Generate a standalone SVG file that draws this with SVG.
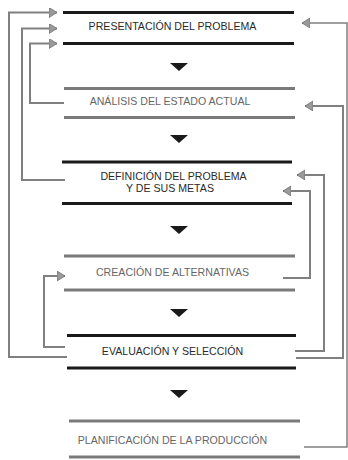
<svg xmlns="http://www.w3.org/2000/svg" width="348" height="460" viewBox="0 0 348 460">
  <style>
    .bar-dark { stroke: #1a1a1a; stroke-width: 3; }
    .bar-grey { stroke: #7a7a7a; stroke-width: 3; }
    .lbl { font-family: "Liberation Sans", Arial, sans-serif; font-size: 10.6px; text-anchor: middle; }
    .lbl-dark { fill: #2a2a2a; }
    .lbl-grey { fill: #666666; }
    .link { fill: none; stroke: #808080; stroke-width: 2; marker-end: url(#head); }
    .link-thin { stroke-width: 1.5; }
    .step { fill: #1a1a1a; }
  </style>
  <defs>
    <marker id="head" markerUnits="userSpaceOnUse" markerWidth="10" markerHeight="12" refX="8" refY="5" orient="auto">
      <path d="M0,0 L8,5 L0,10 z" fill="#9a9a9a" stroke="#707070" stroke-width="0.8"/>
    </marker>
  </defs>
  <rect width="348" height="460" fill="#ffffff"/>

  <g id="presentacion">
    <line class="bar-dark" x1="63" y1="12.5" x2="294" y2="12.5"/>
    <line class="bar-dark" x1="63" y1="43.5" x2="294" y2="43.5"/>
    <text class="lbl lbl-dark" x="172.5" y="29.5">PRESENTACIÓN DEL PROBLEMA</text>
  </g>

  <g id="analisis">
    <line class="bar-grey" x1="64" y1="88.5" x2="295" y2="88.5"/>
    <line class="bar-grey" x1="64" y1="117.5" x2="295" y2="117.5"/>
    <text class="lbl lbl-grey" x="170" y="105">ANÁLISIS DEL ESTADO ACTUAL</text>
  </g>

  <g id="definicion">
    <line class="bar-dark" x1="62" y1="162" x2="292" y2="162"/>
    <line class="bar-dark" x1="62" y1="203.5" x2="292" y2="203.5"/>
    <text class="lbl lbl-dark" x="173.5" y="180">DEFINICIÓN DEL PROBLEMA</text>
    <text class="lbl lbl-dark" x="170" y="192">Y DE SUS METAS</text>
  </g>

  <g id="creacion">
    <line class="bar-grey" x1="64" y1="256" x2="295" y2="256"/>
    <line class="bar-grey" x1="64" y1="290" x2="295" y2="290"/>
    <text class="lbl lbl-grey" x="172.5" y="276">CREACIÓN DE ALTERNATIVAS</text>
  </g>

  <g id="evaluacion">
    <line class="bar-dark" x1="67" y1="335.5" x2="296" y2="335.5"/>
    <line class="bar-dark" x1="67" y1="368" x2="296" y2="368"/>
    <text class="lbl lbl-dark" x="172.5" y="355">EVALUACIÓN Y SELECCIÓN</text>
  </g>

  <g id="planificacion">
    <line class="bar-grey" x1="69" y1="421" x2="300" y2="421"/>
    <line class="bar-grey" x1="69" y1="457" x2="300" y2="457"/>
    <text class="lbl lbl-grey" x="172.5" y="444">PLANIFICACIÓN DE LA PRODUCCIÓN</text>
  </g>

  <g id="connectors">
    <!-- downward step arrows -->
    <polygon class="step" points="170,63 188,63 179,71"/>
    <polygon class="step" points="170,135 188,135 179,143"/>
    <polygon class="step" points="170,226 188,226 179,234"/>
    <polygon class="step" points="170,309 188,309 179,317"/>
    <polygon class="step" points="170,390 188,390 179,398"/>
    <!-- feedback loops, right side -->
    <path class="link link-thin" d="M304,447 H347 V23 H302"/>
    <path class="link" d="M296,358 H343 V106 H305"/>
    <path class="link" d="M295,351 H324 V175 H297"/>
    <path class="link" d="M283,278 H310 V191 H283"/>
    <!-- feedback loops, left side -->
    <path class="link" d="M67,357 H9 V12.5 H57"/>
    <path class="link" d="M65,180 H22 V28.5 H57"/>
    <path class="link" d="M64,103 H30 V43.5 H57"/>
    <path class="link" d="M65,347 H44 V276 H65"/>
  </g>
</svg>
